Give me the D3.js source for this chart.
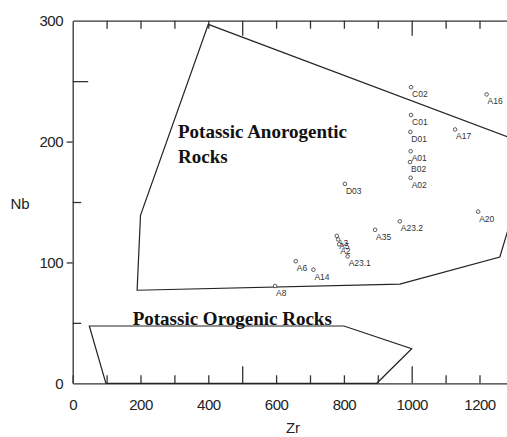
<!DOCTYPE html>
<html>
<head>
<meta charset="utf-8">
<script src="https://cdn.jsdelivr.net/npm/d3@7"></script>
<style>
	body { margin: 0; background: #fff; }
	svg { display: block; }
</style>
</head>
<body>
<script>
// Samples (Zr vs Nb, ppm)
const samples = ['C02', 'A16', 'C01', 'D01', 'A17', 'A01', 'B02', 'A02', 'D03', 'A20', 'A23.2', 'A35', 'A3', 'A5', 'A2', 'A23.1', 'A6', 'A14', 'A8']
const zr = [998, 1221, 998, 996, 1128, 997, 995, 997, 803, 1196, 965, 892, 779, 783, 786, 811, 658, 710, 597]
const nb = [245, 239, 222, 208, 210, 192, 183, 170, 165, 142, 134, 127, 122, 119, 115, 105, 101, 94, 80.5]

// Field boundaries
const anorogenicZr = [400, 1330, 1330, 1260, 965, 190, 200]
const anorogenicNb = [297, 199, 170, 104.5, 82, 77, 139]
const orogenicZr = [49, 800, 1000, 897, 98]
const orogenicNb = [47.4, 47.4, 28.6, 0, 0]

const xTicks = d3.range(0, 1301, 100)
const xLabels = [0, 200, 400, 600, 800, 1000, 1200]
const yTicks = [0, 50, 100, 150, 200, 250, 300]
const yLabels = [0, 100, 200, 300]

const w = 507, h = 437

const $svg = d3.select('body').append('svg')
	.attr('width', w)
	.attr('height', h)

const x = d3.scaleLinear().domain([0, 1300]).range([72.7, 513.4])
const y = d3.scaleLinear().domain([0, 300]).range([383.3, 20.7])

const axisColor = '#333'
const sans = '"Liberation Sans", Arial, sans-serif'

// bottom axis, ticks point inward
const $xAxis = $svg.append('g')
	.attr('transform', `translate(0, ${y(0)})`)
	.call(d3.axisBottom(x)
		.tickValues(xTicks)
		.tickSizeInner(-8)
		.tickSizeOuter(0)
		.tickPadding(16.5)
		.tickFormat(d => xLabels.includes(d) ? d : ''))
$xAxis.selectAll('line').attr('y2', d => d % 500 === 0 && d > 0 ? -17 : -8)

// top frame line
const $top = $svg.append('g')
	.attr('transform', `translate(0, ${y(300)})`)
	.call(d3.axisTop(x)
		.tickValues(xTicks.filter(d => d > 0))
		.tickSizeInner(-8)
		.tickSizeOuter(0)
		.tickFormat(''))
$top.selectAll('line').attr('y2', d => d % 500 === 0 ? 15 : 8)

// left axis: outward major ticks, inward minor ones
const $yAxis = $svg.append('g')
	.attr('transform', `translate(${x(0)}, 0)`)
	.call(d3.axisLeft(y)
		.tickValues(yTicks)
		.tickSizeInner(6)
		.tickSizeOuter(0)
		.tickPadding(3.7)
		.tickFormat(d => yLabels.includes(d) ? d : ''))
$yAxis.selectAll('line')
	.attr('x2', d => {
		if (d === 0 || d === 300) return 0
		if (d === 250) return 15.5
		if (d % 100 === 50) return 8.5
		return -6
	})

$svg.selectAll('.domain, .tick line')
	.attr('stroke', axisColor)
	.attr('stroke-width', 1.3)

$svg.selectAll('.tick text')
	.attr('fill', '#222')
	.style('font-family', sans)
	.style('font-size', '15px')
	.style('letter-spacing', '-0.5px')

// axis titles
$svg.append('text')
	.attr('x', x(650))
	.attr('y', 433)
	.attr('text-anchor', 'middle')
	.attr('fill', '#222')
	.style('font-family', sans)
	.style('font-size', '15px')
	.text('Zr')

$svg.append('text')
	.attr('x', 20)
	.attr('y', 209)
	.attr('text-anchor', 'middle')
	.attr('fill', '#222')
	.style('font-family', sans)
	.style('font-size', '15px')
	.text('Nb')

// fields
const line = d3.line().x(d => x(d[0])).y(d => y(d[1])).curve(d3.curveLinearClosed)

$svg.append('path')
	.attr('d', line(d3.zip(anorogenicZr, anorogenicNb)))
	.attr('fill', 'none')
	.attr('stroke', '#222')
	.attr('stroke-width', 1.2)

$svg.append('path')
	.attr('d', line(d3.zip(orogenicZr, orogenicNb)))
	.attr('fill', 'none')
	.attr('stroke', '#222')
	.attr('stroke-width', 1.2)

// field names
const serif = '"Liberation Serif", "Times New Roman", serif'
const fieldNames = [
	{text: 'Potassic Anorogentic', x: 178, y: 138},
	{text: 'Rocks', x: 178, y: 163},
	{text: 'Potassic Orogenic Rocks', x: 132.7, y: 325}
]
$svg.selectAll('.field-name')
	.data(fieldNames)
	.enter()
	.append('text')
	.attr('class', 'field-name')
	.attr('x', d => d.x)
	.attr('y', d => d.y)
	.attr('fill', '#111')
	.style('font-family', serif)
	.style('font-weight', 'bold')
	.style('font-size', '19px')
	.text(d => d.text)

// samples
const $pt = $svg.selectAll('.pt')
	.data(samples.map((s, i) => ({name: s, zr: zr[i], nb: nb[i]})))
	.enter()
	.append('g')
	.attr('class', 'pt')
	.attr('transform', d => `translate(${x(d.zr)}, ${y(d.nb)})`)

$pt.append('circle')
	.attr('r', 1.8)
	.attr('fill', '#fff')
	.attr('stroke', '#333')
	.attr('stroke-width', 0.8)

$pt.append('text')
	.attr('x', 1)
	.attr('y', 10)
	.attr('fill', '#333')
	.style('font-family', sans)
	.style('font-size', '8.5px')
	.text(d => d.name)
</script>
</body>
</html>
